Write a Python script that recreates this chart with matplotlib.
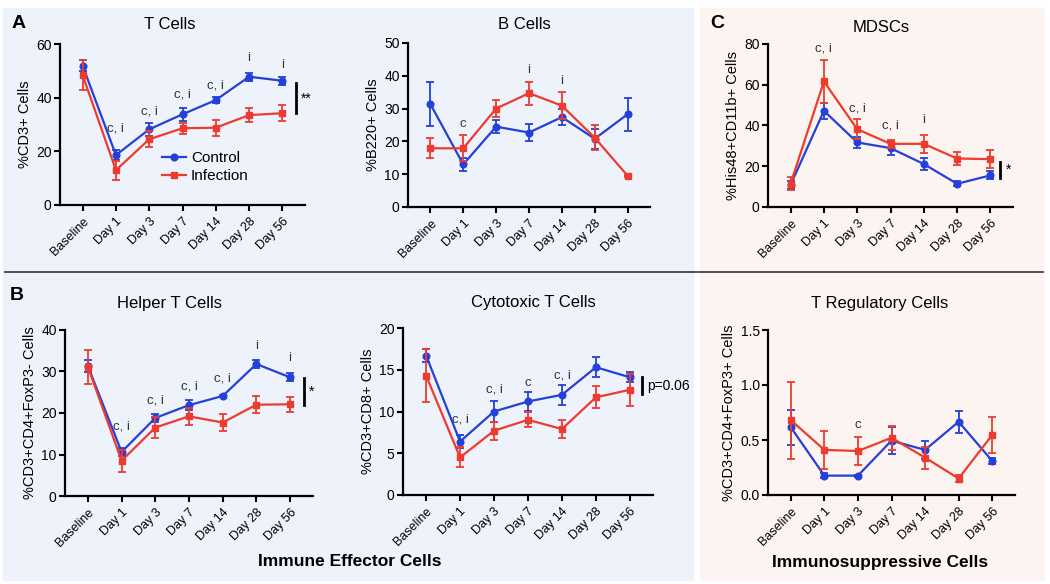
import numpy as np
import matplotlib.pyplot as plt
from matplotlib.patches import Rectangle
from matplotlib.lines import Line2D

plt.rcParams['font.family'] = ['Liberation Sans', 'DejaVu Sans']

# =========================
# DATA
# =========================
days = ["Baseline", "Day 1", "Day 3", "Day 7", "Day 14", "Day 28", "Day 56"]

# T cells (%CD3+)
tcell_ctrl = [51.9, 18.6, 28.2, 33.8, 39.1, 47.8, 46.3]
tcell_ctrl_err = [2.0, 2.0, 2.3, 2.5, 1.0, 1.5, 1.5]
tcell_inf = [48.4, 13.0, 24.5, 28.6, 28.8, 33.5, 34.2]
tcell_inf_err = [5.5, 3.5, 3.0, 2.0, 3.0, 2.5, 3.0]
tcell_notes = ["", "c, i", "c, i", "c, i", "c, i", "i", "i"]
tcell_note_y = [0, 28.5, 35.0, 41.0, 44.7, 54.7, 52.0]

# B cells (%B220+)
bcell_ctrl = [31.4, 13.0, 24.5, 22.7, 27.4, 20.8, 28.3]
bcell_ctrl_err = [6.6, 2.0, 2.0, 2.5, 2.5, 3.0, 5.0]
bcell_inf = [17.9, 17.9, 30.0, 34.7, 30.9, 21.1, 9.5]
bcell_inf_err = [3.0, 4.0, 2.7, 3.5, 4.2, 3.8, 0.3]
bcell_notes = ["", "c", "", "i", "i", "", ""]
bcell_note_y = [0, 25.3, 0, 41.8, 38.3, 0, 0]

# MDSCs (%His48+CD11b+)
mdsc_ctrl = [10.9, 47.2, 31.7, 28.9, 21.1, 11.4, 15.5]
mdsc_ctrl_err = [2.0, 4.0, 2.5, 3.5, 3.0, 1.2, 2.0]
mdsc_inf = [11.5, 61.6, 38.2, 31.0, 31.0, 23.8, 23.5]
mdsc_inf_err = [3.0, 10.5, 5.0, 2.0, 4.5, 3.0, 4.5]
mdsc_notes = ["", "c, i", "c, i", "c, i", "i", "", ""]
mdsc_note_y = [0, 77.9, 48.5, 39.8, 42.8, 0, 0]

# Helper T cells (%CD3+CD4+FoxP3-)
helper_ctrl = [31.3, 10.6, 18.8, 21.9, 24.1, 31.8, 28.6]
helper_ctrl_err = [1.5, 1.0, 1.0, 1.2, 0.3, 1.0, 1.0]
helper_inf = [31.1, 8.5, 16.5, 19.2, 17.7, 22.0, 22.1]
helper_inf_err = [4.0, 2.7, 2.5, 2.0, 2.0, 2.0, 1.8]
helper_notes = ["", "c, i", "c, i", "c, i", "c, i", "i", "i"]
helper_note_y = [0, 16.8, 23.1, 26.5, 28.4, 36.2, 33.2]

# Cytotoxic T cells (%CD3+CD8+)
cyto_ctrl = [16.7, 6.4, 10.0, 11.2, 12.0, 15.3, 14.1]
cyto_ctrl_err = [0.8, 0.8, 1.2, 1.1, 1.2, 1.2, 0.6]
cyto_inf = [14.3, 4.5, 7.7, 9.0, 7.9, 11.7, 12.6]
cyto_inf_err = [3.2, 1.2, 1.1, 0.9, 1.1, 1.3, 1.9]
cyto_notes = ["", "c, i", "c, i", "c", "c, i", "", ""]
cyto_note_y = [0, 9.1, 12.6, 13.4, 14.3, 0, 0]

# T regulatory cells (%CD3+CD4+FoxP3+)
treg_ctrl = [0.615, 0.176, 0.176, 0.494, 0.41, 0.666, 0.31]
treg_ctrl_err = [0.16, 0.02, 0.01, 0.12, 0.08, 0.10, 0.03]
treg_inf = [0.68, 0.41, 0.40, 0.52, 0.34, 0.15, 0.545]
treg_inf_err = [0.35, 0.17, 0.13, 0.11, 0.10, 0.03, 0.16]
treg_notes = ["", "", "c", "", "", "", ""]
treg_note_y = [0, 0, 0.64, 0, 0, 0, 0]

BLUE = "#2440d8"
RED = "#ee3b2f"
BG_BLUE = "#eef2fb"
BG_PINK = "#fcf4f0"

W, H = 1050, 584


def px_axes(fig, x0, y0, x1, y1):
    # pixel box (top-left origin) -> figure fraction
    return fig.add_axes([x0 / W, 1 - y1 / H, (x1 - x0) / W, (y1 - y0) / H])


def draw_panel(ax, ctrl, ctrl_err, inf, inf_err, ylim, yticks, ylabel,
               title, title_xy, notes, note_y, sig=None):
    x = np.arange(len(days))
    ax.errorbar(x, ctrl, yerr=ctrl_err, color=BLUE, marker="o", ms=4.8, lw=1.6,
                elinewidth=1.3, capsize=2.8, capthick=1.3, zorder=3)
    ax.errorbar(x, inf, yerr=inf_err, color=RED, marker="s", ms=4.8, lw=1.6,
                elinewidth=1.3, capsize=2.8, capthick=1.3, zorder=4)
    ax.set_xlim(-0.68, 6.68)
    ax.set_ylim(*ylim)
    ax.set_yticks(yticks)
    ax.set_xticks(x)
    ax.set_xticklabels(days, rotation=45, ha="right", rotation_mode="anchor",
                       fontsize=9)
    ax.tick_params(axis="y", labelsize=10, width=1.5, length=4, pad=2)
    ax.tick_params(axis="x", width=1.5, length=4)
    ax.set_facecolor("none")
    for s in ["top", "right"]:
        ax.spines[s].set_visible(False)
    for s in ["left", "bottom"]:
        ax.spines[s].set_linewidth(1.6)
    ax.set_ylabel(ylabel, fontsize=10.5, labelpad=3)
    ax.text(title_xy[0], title_xy[1], title, transform=ax.transAxes,
            ha="center", va="center", fontsize=12)
    for xi, (n, ny) in enumerate(zip(notes, note_y)):
        if n:
            ax.text(xi, ny, n, ha="center", va="center", fontsize=9.5,
                    color="#333333")
    if sig is not None:
        sx, y0, y1, label = sig
        ax.plot([sx, sx], [y0, y1], color="black", lw=2, clip_on=False)
        ax.text(sx + 0.15, (y0 + y1) / 2, label, ha="left", va="center",
                fontsize=10, clip_on=False)


fig = plt.figure(figsize=(10.5, 5.84), dpi=100)

# backgrounds
fig.patches.append(Rectangle((3 / W, 1 - 580 / H), 690 / W, 572 / H,
                             transform=fig.transFigure, color=BG_BLUE, zorder=-5))
fig.patches.append(Rectangle((700 / W, 1 - 580 / H), 344 / W, 572 / H,
                             transform=fig.transFigure, color=BG_PINK, zorder=-5))
fig.add_artist(Line2D([5 / W, 1043 / W], [1 - 272 / H, 1 - 272 / H],
                      transform=fig.transFigure, color="#444444", lw=1.3,
                      zorder=-4))

axA = px_axes(fig, 60, 44, 305, 205)
draw_panel(axA, tcell_ctrl, tcell_ctrl_err, tcell_inf, tcell_inf_err,
           (0, 60), [0, 20, 40, 60], "%CD3+ Cells", "T Cells", (0.45, 1.12),
           tcell_notes, tcell_note_y, sig=(6.4, 45.3, 34.2, "**"))
axA.legend(handles=[Line2D([], [], color=BLUE, marker="o", ms=4.8, lw=1.6),
                    Line2D([], [], color=RED, marker="s", ms=4.8, lw=1.6)],
           labels=["Control", "Infection"], loc="lower left",
           bbox_to_anchor=(0.36, 0.05), frameon=False, fontsize=11,
           handlelength=1.6, handletextpad=0.3, labelspacing=0.25)

axB = px_axes(fig, 408, 43, 650, 207)
draw_panel(axB, bcell_ctrl, bcell_ctrl_err, bcell_inf, bcell_inf_err,
           (0, 50), [0, 10, 20, 30, 40, 50], "%B220+ Cells", "B Cells",
           (0.48, 1.11), bcell_notes, bcell_note_y)

axC = px_axes(fig, 768, 44, 1013, 207)
draw_panel(axC, mdsc_ctrl, mdsc_ctrl_err, mdsc_inf, mdsc_inf_err,
           (0, 80), [0, 20, 40, 60, 80], "%His48+CD11b+ Cells", "MDSCs",
           (0.46, 1.1), mdsc_notes, mdsc_note_y, sig=(6.3, 22.0, 14.2, "*"))

axD = px_axes(fig, 65, 330, 313, 496)
draw_panel(axD, helper_ctrl, helper_ctrl_err, helper_inf, helper_inf_err,
           (0, 40), [0, 10, 20, 30, 40], "%CD3+CD4+FoxP3- Cells",
           "Helper T Cells", (0.42, 1.16), helper_notes, helper_note_y,
           sig=(6.42, 28.4, 22.0, "*"))

axE = px_axes(fig, 403, 328, 653, 495)
draw_panel(axE, cyto_ctrl, cyto_ctrl_err, cyto_inf, cyto_inf_err,
           (0, 20), [0, 5, 10, 15, 20], "%CD3+CD8+ Cells",
           "Cytotoxic T Cells", (0.52, 1.15), cyto_notes, cyto_note_y,
           sig=(6.37, 14.1, 12.1, "p=0.06"))

axF = px_axes(fig, 768, 330, 1015, 495)
draw_panel(axF, treg_ctrl, treg_ctrl_err, treg_inf, treg_inf_err,
           (0, 1.5), [0.0, 0.5, 1.0, 1.5], "%CD3+CD4+FoxP3+ Cells",
           "T Regulatory Cells", (0.45, 1.16), treg_notes, treg_note_y)
axF.yaxis.set_major_formatter(plt.FormatStrFormatter("%.1f"))

# panel letters
fig.text(12 / W, 1 - 24 / H, "A", fontsize=14, fontweight="bold", va="center")
fig.text(10 / W, 1 - 296 / H, "B", fontsize=14, fontweight="bold", va="center")
fig.text(710 / W, 1 - 23 / H, "C", fontsize=14, fontweight="bold", va="center")

# section labels
fig.text(350 / W, 1 - 562 / H, "Immune Effector Cells", fontsize=12.5,
         fontweight="bold", ha="center", va="center")
fig.text(880 / W, 1 - 563 / H, "Immunosuppressive Cells", fontsize=12.5,
         fontweight="bold", ha="center", va="center")

fig.savefig("out.png", dpi=100)
